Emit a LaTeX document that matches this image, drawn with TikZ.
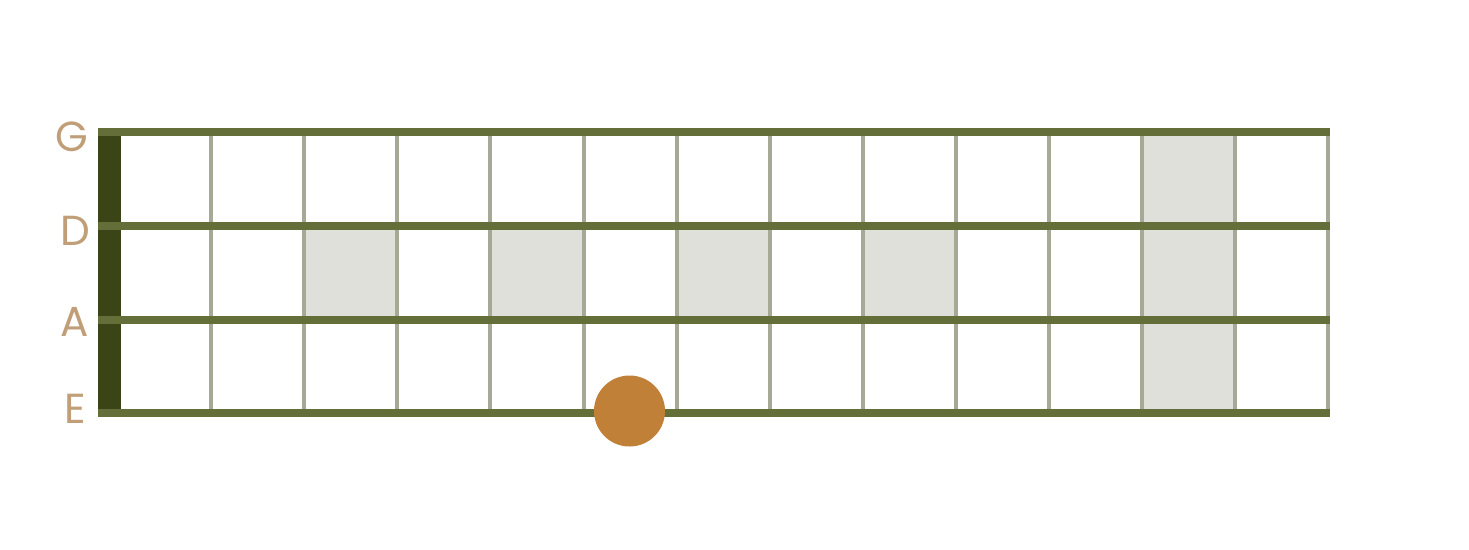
\documentclass[tikz,border=0pt]{standalone}
\usepackage{fontspec}
\setmainfont{Poppins}
\definecolor{stringc}{HTML}{636E38}
\definecolor{nutc}{HTML}{3B4416}
\definecolor{fretc}{HTML}{A6A996}
\definecolor{shadec}{HTML}{DFE0DA}
\definecolor{dotc}{HTML}{C08038}
\definecolor{labelc}{HTML}{C09F78}
\tikzset{
  stringline/.style={draw=stringc, line width=8pt},
  fretline/.style={draw=fretc, line width=4pt},
  shadecell/.style={fill=shadec},
  notelabel/.style={text=labelc, font=\fontsize{42}{42}\selectfont, inner sep=0pt},
  notedot/.style={circle, fill=dotc, minimum size=71pt, inner sep=0pt}
}
\begin{document}
\begin{tikzpicture}[x=1pt,y=-1pt]
\useasboundingbox[fill=white] (0,0) rectangle (1469,549);
% string y positions
\def\yG{132}\def\yD{225.5}\def\yA{319.5}\def\yE{413}
% shaded cells (middle row)
\foreach \a/\b in {304.4/397.4, 490.5/583.5, 676.6/769.6, 862.7/955.7}{
  \fill[shadecell] (\a,\yD) rectangle (\b,\yA);
}
\fill[shadecell] (1141.8,\yG) rectangle (1234.9,\yE);
% frets
\foreach \k in {0,...,12}{
  \draw[fretline] ({211.3+93.05*\k},\yG) -- ({211.3+93.05*\k},\yE);
}
% nut
\fill[nutc] (98,\yG) rectangle (121,\yE);
% strings
\foreach \y in {\yG,\yD,\yA,\yE}{
  \draw[stringline] (98,\y) -- (1330,\y);
}
% labels
\node[notelabel] (lG) at (72,137) {G};
\node[notelabel] (lD) at (75,231) {D};
\node[notelabel] (lA) at (75,322) {A};
\node[notelabel] (lE) at (75,409) {E};
% dot
\node[notedot] (dot) at (629.5,411) {};
\end{tikzpicture}
\end{document}
